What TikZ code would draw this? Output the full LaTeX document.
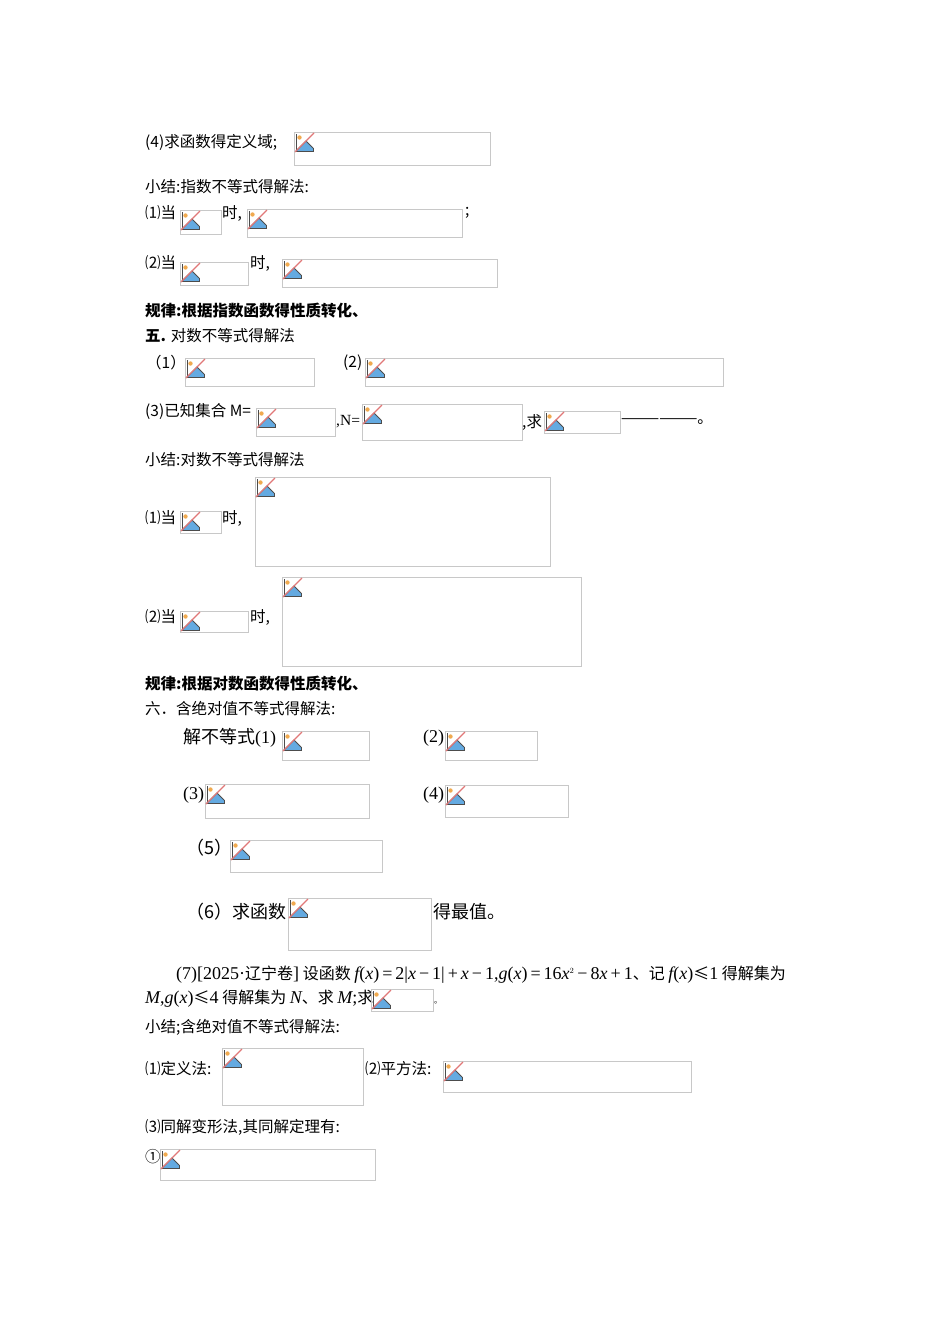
\documentclass[tikz,border=0pt]{standalone}
\usepackage{fontspec}
\setmainfont{Noto Sans CJK SC}
\newfontfamily\lib{Liberation Serif}
\definecolor{boxgray}{RGB}{200,200,200}
\definecolor{skyb}{RGB}{100,170,225}
\definecolor{iconred}{RGB}{225,120,120}
\definecolor{iconorg}{RGB}{240,170,80}
\newcommand\ph[4]{%
  \draw[boxgray,line width=0.8] (#1,#2) rectangle (#3,#4);
  \begin{scope}[shift={(#1+1,#2+1)}]
    \fill[skyb] (1,18) -- (11,8) -- (18,15) -- (18,18) -- cycle;
    \draw[black!70,line width=1] (1,1) -- (1,18) -- (18,18) -- (18,15);
    \draw[black!70,line width=0.8] (1,18) -- (11,8) -- (18,15);
    \fill[iconorg] (4.5,4.5) circle (2.2);
    \draw[iconred,line width=1.2] (0,19) -- (19,0);
  \end{scope}}
\tikzset{t/.style={anchor=west,inner sep=0pt,font=\fontsize{15.5}{17}\selectfont},
  tb/.style={t,font=\fontsize{15.5}{17}\selectfont\bfseries},
  tl/.style={t,font=\fontsize{18}{20}\selectfont}}
\begin{document}
\begin{tikzpicture}[x=1pt,y=-1pt]
\useasboundingbox (0,0) rectangle (950,1344);
\node[t] (a1) at (145,142) {(4)求函数得定义域;};
\ph{294}{132}{490}{165}
\node[t] (a2) at (145,187) {小结:指数不等式得解法:};
\node[t] (a3) at (145,213) {⑴当};
\ph{180}{210}{221}{234}
\node[t] (a4) at (222,213) {时,};
\ph{247}{209}{462}{237}
\node[t] (a5) at (465,213) {;};
\node[t] (a6) at (145,263) {⑵当};
\ph{180}{262}{248}{285}
\node[t] (a7) at (250,263) {时,};
\ph{282}{259}{497}{287}
\node[tb] (a8) at (145,311) {规律:根据指数函数得性质转化、};
\node[t] (a9) at (145,336) {\textbf{五.} 对数不等式得解法};
\node[t] (b1) at (146,363) {（1）};
\ph{185}{358}{314}{386}
\node[t] (b2) at (343,363) {(2)};
\ph{365}{358}{723}{386}
\node[t] (b3) at (145,411) {(3)已知集合 M=};
\ph{256}{408}{335}{436}
\node[t] (b4) at (336,422) {\lib ,N=};
\ph{362}{404}{522}{440}
\node[t] (b5) at (522,422) {,求};
\ph{544}{411}{620}{433}
\node[t] (b6) at (621,422) {——————。};
\node[t] (b7) at (145,460) {小结:对数不等式得解法};
\node[t] (c1) at (145,518) {⑴当};
\ph{180}{511}{221}{533}
\node[t] (c2) at (222,518) {时,};
\ph{255}{477}{550}{566}
\node[t] (c3) at (145,617) {⑵当};
\ph{180}{611}{248}{632}
\node[t] (c4) at (250,617) {时,};
\ph{282}{577}{581}{666}
\node[tb] (c5) at (145,684) {规律:根据对数函数得性质转化、};
\node[t] (c6) at (145,709) {六．含绝对值不等式得解法:};
\node[tl] (d1) at (183,738) {解不等式{\lib (1)}};
\ph{282}{731}{369}{760}
\node[tl] (d2) at (423,738) {\lib (2)};
\ph{445}{731}{537}{760}
\node[tl] (d3) at (183,795) {\lib (3)};
\ph{205}{784}{369}{818}
\node[tl] (d4) at (423,795) {\lib (4)};
\ph{445}{785}{568}{817}
\node[tl] (d5) at (186,848) {（5）};
\ph{230}{840}{382}{872}
\node[tl] (d6) at (186,912) {（6）求函数};
\ph{288}{898}{431}{950}
\node[tl] (d7) at (433,912) {得最值。};
\node[t,font=\fontsize{16}{18}\selectfont] (e1) at (176,975) {{\lib\fontsize{18}{20}\selectfont (7)[2025·}辽宁卷{\lib\fontsize{18}{20}\selectfont ]} 设函数 {\lib\fontsize{18}{20}\selectfont\itshape f}{\lib\fontsize{18}{20}\selectfont (}{\lib\fontsize{18}{20}\selectfont\itshape x}{\lib\fontsize{18}{20}\selectfont )\,=\,2|}{\lib\fontsize{18}{20}\selectfont\itshape x}{\lib\fontsize{18}{20}\selectfont \,−\,1|\,+\,}{\lib\fontsize{18}{20}\selectfont\itshape x}{\lib\fontsize{18}{20}\selectfont \,−\,1,}{\lib\fontsize{18}{20}\selectfont\itshape g}{\lib\fontsize{18}{20}\selectfont (}{\lib\fontsize{18}{20}\selectfont\itshape x}{\lib\fontsize{18}{20}\selectfont )\,=\,16}{\lib\fontsize{18}{20}\selectfont\itshape x}$^{\scriptscriptstyle 2}${\lib\fontsize{18}{20}\selectfont \,−\,8}{\lib\fontsize{18}{20}\selectfont\itshape x}{\lib\fontsize{18}{20}\selectfont \,+\,1}、记 {\lib\fontsize{18}{20}\selectfont\itshape f}{\lib\fontsize{18}{20}\selectfont (}{\lib\fontsize{18}{20}\selectfont\itshape x}{\lib\fontsize{18}{20}\selectfont )}≤{\lib\fontsize{18}{20}\selectfont 1} 得解集为};
\node[t,font=\fontsize{16}{18}\selectfont] (e2) at (145,999) {{\lib\fontsize{18}{20}\selectfont\itshape M}{\lib\fontsize{18}{20}\selectfont ,}{\lib\fontsize{18}{20}\selectfont\itshape g}{\lib\fontsize{18}{20}\selectfont (}{\lib\fontsize{18}{20}\selectfont\itshape x}{\lib\fontsize{18}{20}\selectfont )}≤{\lib\fontsize{18}{20}\selectfont 4} 得解集为 {\lib\fontsize{18}{20}\selectfont\itshape N}、求 {\lib\fontsize{18}{20}\selectfont\itshape M}{\lib\fontsize{18}{20}\selectfont ;}求};
\ph{371}{989}{433}{1011}
\node[t] (e3) at (434,1003) {\fontsize{8}{8}\selectfont 。};
\node[t] (f1) at (145,1027) {小结;含绝对值不等式得解法:};
\node[t] (f2) at (145,1069) {⑴定义法:};
\ph{222}{1048}{363}{1105}
\node[t] (f3) at (365,1069) {⑵平方法:};
\ph{443}{1061}{691}{1092}
\node[t] (f4) at (145,1127) {⑶同解变形法,其同解定理有:};
\node[t] (f5) at (145,1157) {①};
\ph{160}{1149}{375}{1180}
\end{tikzpicture}
\end{document}
